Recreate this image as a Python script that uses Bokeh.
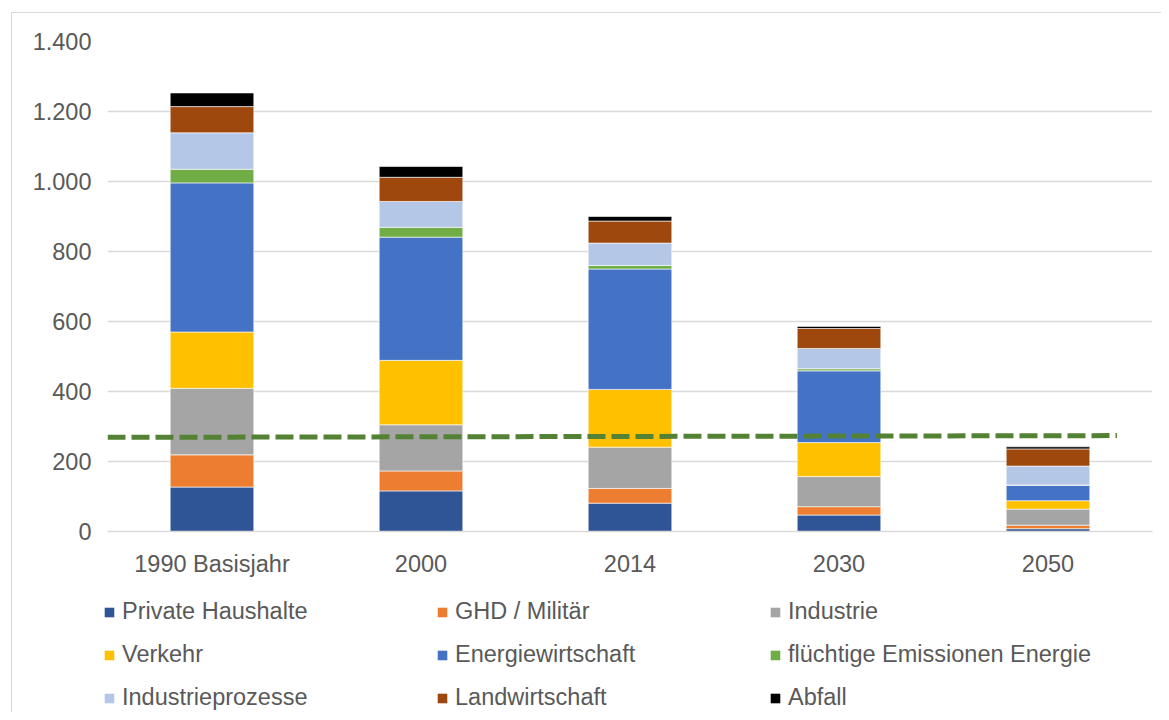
from bokeh.plotting import figure
from bokeh.layouts import column
from bokeh.models import ColumnDataSource, Legend, LegendItem, FixedTicker, Range1d
from bokeh.embed import file_html
from bokeh.resources import INLINE

# ---- data ----
categories = ["1990 Basisjahr", "2000", "2014", "2030", "2050"]
series_names = ["Private Haushalte", "GHD / Militär", "Industrie", "Verkehr",
                "Energiewirtschaft", "flüchtige Emissionen Energie",
                "Industrieprozesse", "Landwirtschaft", "Abfall"]
private_haushalte = [127, 116, 81, 47, 8]
ghd_militaer = [92, 57, 42, 24, 10]
industrie = [190, 132, 118, 86, 46]
verkehr = [161, 184, 165, 97, 24]
energiewirtschaft = [426, 352, 344, 205, 44]
fluechtige = [39, 28, 10, 6, 1]
industrieprozesse = [104, 74, 64, 58, 54]
landwirtschaft = [75, 69, 63, 57, 49]
abfall = [39, 31, 13, 6, 6]
target_x = [-0.5, 4.33]
target_y = [269, 274]
y_ticks = [0, 200, 400, 600, 800, 1000, 1200, 1400]
y_tick_labels = ["0", "200", "400", "600", "800", "1.000", "1.200", "1.400"]

colors = ["#2F5597", "#ED7D31", "#A5A5A5", "#FFC000", "#4472C4",
          "#70AD47", "#B4C7E7", "#9E480E", "#000000"]

keys = ["s%d" % i for i in range(9)]
values = [private_haushalte, ghd_militaer, industrie, verkehr, energiewirtschaft,
          fluechtige, industrieprozesse, landwirtschaft, abfall]
data = {"x": list(range(len(categories)))}
for k, v in zip(keys, values):
    data[k] = v
source = ColumnDataSource(data)

FONT = "Liberation Sans"
TXT = "#595959"
FS = "23.5px"

p = figure(width=1149, height=566,
           x_range=Range1d(-0.5, len(categories) - 0.5),
           y_range=Range1d(0, 1400),
           output_backend="svg", toolbar_location=None,
           min_border_left=95, min_border_right=9,
           min_border_top=28, min_border_bottom=48)
p.outline_line_color = None
p.background_fill_color = "white"

renderers = p.vbar_stack(keys, x="x", width=0.40, source=source, color=colors,
                         line_color="white", line_alpha=0.6, line_width=1)

p.line(target_x, target_y, line_color="#548235", line_width=5, line_dash="18 6")

# axes
p.xaxis.ticker = FixedTicker(ticks=list(range(len(categories))))
p.xaxis.major_label_overrides = {i: c for i, c in enumerate(categories)}
p.yaxis.ticker = FixedTicker(ticks=y_ticks)
p.yaxis.major_label_overrides = {t: l for t, l in zip(y_ticks, y_tick_labels)}
for ax in (p.xaxis[0], p.yaxis[0]):
    ax.major_tick_line_color = None
    ax.minor_tick_line_color = None
    ax.major_label_text_font = FONT
    ax.major_label_text_font_size = FS
    ax.major_label_text_color = TXT
p.yaxis.axis_line_color = None
p.yaxis.major_label_standoff = 10
p.xaxis.axis_line_color = "#D9D9D9"
p.xaxis.axis_line_width = 1.5
p.xaxis.major_label_standoff = 13

p.xgrid.visible = False
p.ygrid.grid_line_color = "#D9D9D9"
p.ygrid.grid_line_width = 1.5

# ---- legend in its own strip below the chart ----
lg = figure(width=1149, height=133, x_range=Range1d(0, 1), y_range=Range1d(0, 1),
            x_axis_type=None, y_axis_type=None, output_backend="svg",
            toolbar_location=None, min_border=0)
lg.frame_align = False
lg.outline_line_color = None
lg.xgrid.visible = False
lg.ygrid.visible = False
dummy = []
for c in colors:
    dummy.append(lg.vbar(x=[5], top=[0], width=0.1, fill_color=c, line_color=None))
items = [LegendItem(label=n, renderers=[r]) for n, r in zip(series_names, dummy)]
legend = Legend(items=items, orientation="horizontal", ncols=3,
                location=(91, 0), margin=0, padding=0,
                glyph_width=12, glyph_height=12, label_standoff=7,
                label_width=300, label_height=29, spacing=14,
                label_text_font=FONT, label_text_font_size=FS,
                label_text_color=TXT, border_line_color=None,
                background_fill_alpha=0)
lg.add_layout(legend, "center")

layout = column(p, lg, spacing=0,
                styles={"margin-left": "11px", "margin-top": "12px",
                        "border-left": "1px solid #D9D9D9",
                        "border-top": "1px solid #D9D9D9"})
open("out.html", "w").write(file_html(layout, INLINE))
